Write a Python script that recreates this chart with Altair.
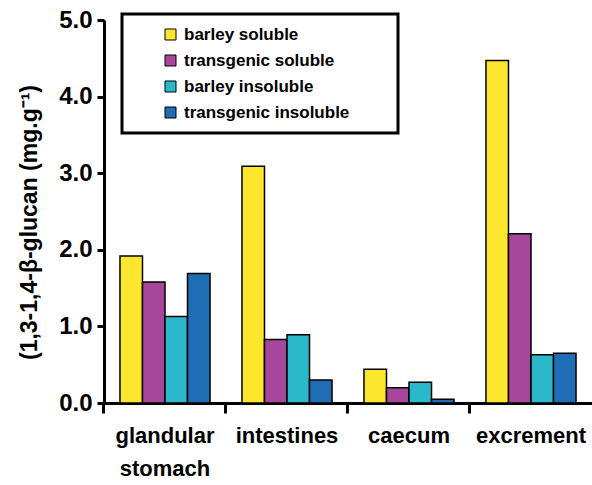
import altair as alt
import pandas as pd

categories = ["glandular stomach", "intestines", "caecum", "excrement"]
series = ["barley soluble", "transgenic soluble", "barley insoluble", "transgenic insoluble"]
barley_soluble = [1.92, 3.09, 0.44, 4.47]
transgenic_soluble = [1.58, 0.83, 0.20, 2.21]
barley_insoluble = [1.13, 0.89, 0.27, 0.63]
transgenic_insoluble = [1.69, 0.30, 0.05, 0.65]
colors = ["#FCE62E", "#A6479B", "#2BB8CB", "#1F6EB5"]
y_ticks = [0, 1, 2, 3, 4, 5]

rows = []
for s, vals in zip(series, [barley_soluble, transgenic_soluble, barley_insoluble, transgenic_insoluble]):
    for c, v in zip(categories, vals):
        rows.append({"organ": c, "series": s, "value": v})
df = pd.DataFrame(rows)

FONT = "Liberation Sans"

chart = alt.Chart(df).mark_bar(stroke="black", strokeWidth=1.5).encode(
    x=alt.X(
        "organ:N", sort=categories,
        scale=alt.Scale(paddingInner=0.262, paddingOuter=0.131),
        axis=alt.Axis(
            title=None, labelAngle=0, labelExpr="split(datum.label, ' ')",
            labelFont=FONT, labelFontWeight="bold", labelFontSize=22, labelColor="black",
            labelLineHeight=33, labelPadding=12, tickSize=10, tickWidth=3, tickColor="black",
            bandPosition=-0.178, domainWidth=3, domainColor="black",
        ),
    ),
    xOffset=alt.XOffset("series:N", sort=series, scale=alt.Scale(paddingInner=0, paddingOuter=0)),
    y=alt.Y(
        "value:Q", scale=alt.Scale(domain=[0, 5]),
        axis=alt.Axis(
            values=y_ticks, format=".1f", grid=False,
            labelFont=FONT, labelFontWeight="bold", labelFontSize=24, labelColor="black",
            labelPadding=5, tickSize=7, tickWidth=3, tickColor="black",
            domainWidth=3, domainColor="black",
            title="(1,3-1,4-β-glucan (mg.g⁻¹)", titleFont=FONT, titleFontWeight="bold",
            titleFontSize=23, titleColor="black", titleX=-75, titleY=202, titleAngle=270,
            titleAlign="center", titleBaseline="middle",
        ),
    ),
    color=alt.Color(
        "series:N", sort=series,
        scale=alt.Scale(domain=series, range=colors),
        legend=alt.Legend(
            title=None,
            orient="none", legendX=18, legendY=-6, direction="vertical",
            symbolType="square", symbolSize=121, symbolStrokeColor="black", symbolStrokeWidth=1,
            symbolOpacity=1, symbolOffset=28, labelOffset=5, labelLimit=400,
            labelFont=FONT, labelFontWeight="bold", labelFontSize=17, labelColor="black",
            labelExpr="datum.label + '\u2800\u2800\u2800'",
            padding=12, rowPadding=8, strokeColor="black", fillColor="white",
        ),
    ),
).properties(
    width=488, height=383,
    autosize=alt.AutoSizeParams(type="none"),
    padding={"left": 104, "top": 20, "right": 0, "bottom": 82},
).configure_view(stroke=None).configure_legend(strokeWidth=3)

chart.save("out.html", embed_options={"renderer": "svg", "actions": False})
